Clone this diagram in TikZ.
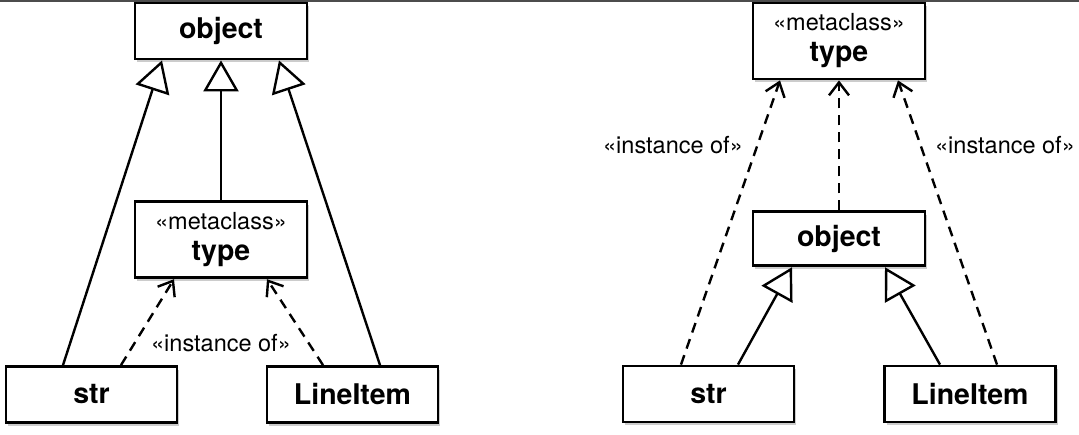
\documentclass[tikz,border=0pt]{standalone}
\usepackage{fontspec}
\setmainfont{TeX Gyre Heros}
\usetikzlibrary{
  positioning,
  arrows.meta,             % open triangle and barb tips
  calc,                    % offsets along box edges
  shadows                  % soft box shadows
}

\begin{document}
\begin{tikzpicture}[
    x=1pt, y=-1pt,
    font=\fontsize{23.5}{27}\selectfont,
    every node/.style={align=center},
    classbox/.style={rectangle, draw, line width=2.8pt, fill=white,
                     minimum width=172pt, minimum height=56pt, inner sep=0pt,
                     font=\fontsize{28.5}{31}\selectfont\bfseries,
                     drop shadow={shadow xshift=2pt, shadow yshift=-3pt,
                                  opacity=0.4}},
    metabox/.style={classbox, minimum height=76pt},
    inherits/.style={line width=2.4pt,
                     -{Triangle[length=31pt, width=35pt, fill=white, line width=2.4pt]}},
    instanceof/.style={line width=2.4pt, dash pattern=on 10pt off 7pt,
                       -{Straight Barb[length=13pt, width=20pt, line width=2.4pt]}},
    stereo/.style={font=\fontsize{23.5}{27}\selectfont}
]
  \useasboundingbox (0,0) rectangle (1079,434);
  \draw[line width=2pt, black!70] (0,1) -- (1079,1);

  % left: type is a subclass of object
  \node[classbox]                       (objL)  at (221,31) {object};
  \node[metabox, below=140pt of objL]   (typeL)
        {{\normalfont\fontsize{23.5}{27}\selectfont «metaclass»}\\type};
  \node[classbox, minimum width=171pt]  (strL)  at (91.5,394.5) {str};
  \node[classbox, minimum width=171pt]  (itemL) at (352.5,394.5) {LineItem};

  \draw[inherits] (typeL.north) -- (objL.south);
  \draw[inherits] ($(strL.north)+(-28.5,0)$)  -- ($(objL.south)+(-59,0)$);
  \draw[inherits] ($(itemL.north)+(27.5,0)$)  -- ($(objL.south)+(58,0)$);
  \draw[instanceof] ($(strL.north)+(29.5,0)$)   -- ($(typeL.south)+(-47,0)$);
  \draw[instanceof] ($(itemL.north)+(-29.5,0)$) -- ($(typeL.south)+(46,0)$);

  \node[stereo] (lblL) at (221,343) {«instance of»};

  % right: object is an instance of type
  \node[metabox]                        (typeR) at (839,41)
        {{\normalfont\fontsize{23.5}{27}\selectfont «metaclass»}\\type};
  \node[classbox, minimum height=54pt, below=130pt of typeR] (objR) {object};
  \node[classbox, minimum width=171pt]  (strR)  at (708.5,394) {str};
  \node[classbox, minimum width=171pt]  (itemR) at (970,394) {LineItem};

  \draw[instanceof] (objR.north) -- (typeR.south);
  \draw[instanceof] ($(strR.north)+(-27.5,0)$) -- ($(typeR.south)+(-59,0)$);
  \draw[instanceof] ($(itemR.north)+(27,0)$)   -- ($(typeR.south)+(59,0)$);
  \draw[inherits] ($(strR.north)+(29.5,0)$)  -- ($(objR.south)+(-47,0)$);
  \draw[inherits] ($(itemR.north)+(-30,0)$)  -- ($(objR.south)+(46,0)$);

  \node[stereo] (lblR1) at (673,145)  {«instance of»};
  \node[stereo] (lblR2) at (1005,145) {«instance of»};
\end{tikzpicture}
\end{document}
